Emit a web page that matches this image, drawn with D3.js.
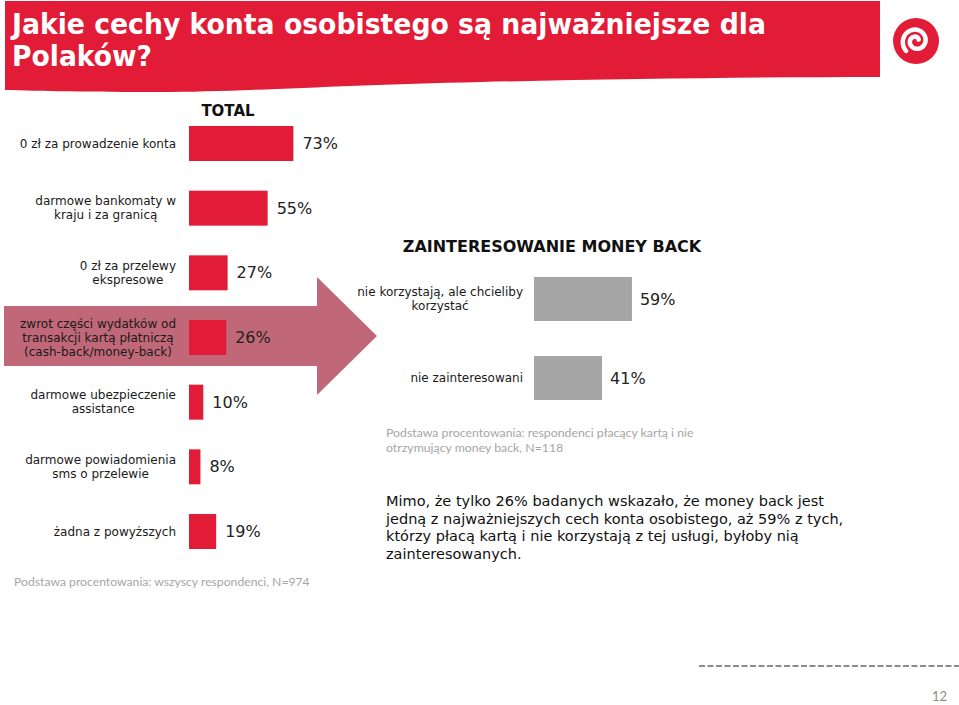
<!DOCTYPE html>
<html>
<head>
<meta charset="utf-8">
<script src="https://cdn.jsdelivr.net/npm/d3@7"></script>
<style>
  html, body { margin: 0; padding: 0; background: #fff; }
  svg { display: block; }
</style>
</head>
<body>
<svg id="chart" width="959" height="705"></svg>
<script>
// ---------- DATA ----------
const titleLines = ["Jakie cechy konta osobistego są najważniejsze dla", "Polaków?"];
const totalTitle = "TOTAL";
const categories = [
  "0 zł za prowadzenie konta",
  "darmowe bankomaty w\nkraju i za granicą",
  "0 zł za przelewy\nekspresowe",
  "zwrot części wydatków od\ntransakcji kartą płatniczą\n(cash-back/money-back)",
  "darmowe ubezpieczenie\nassistance",
  "darmowe powiadomienia\nsms o przelewie",
  "żadna z powyższych"
];
const values = [73, 55, 27, 26, 10, 8, 19];
const footnoteLeft = "Podstawa procentowania: wszyscy respondenci, N=974";

const mbTitle = "ZAINTERESOWANIE MONEY BACK";
const mbCategories = ["nie korzystają, ale chcieliby\nkorzystać", "nie zainteresowani"];
const mbValues = [59, 41];
const footnoteRight = ["Podstawa procentowania: respondenci płacący kartą i nie", "otrzymujący money back, N=118"];

const summaryLines = [
  "Mimo, że tylko 26% badanych wskazało, że money back jest",
  "jedną z najważniejszych cech konta osobistego, aż 59% z tych,",
  "którzy płacą kartą i nie korzystają z tej usługi, byłoby nią",
  "zainteresowanych."
];
const pageNumber = "12";

// ---------- STYLE ----------
const RED = "#e21b36";
const GREY_BAR = "#a6a6a6";
const ARROW = "#c06878";
const FONT = "'DejaVu Sans', Verdana, sans-serif";
const FOOT_FONT = "Lato, 'Open Sans', sans-serif";

const svg = d3.select("#chart");
svg.append("rect").attr("width", 959).attr("height", 705).attr("fill", "#fff");

// ---------- Banner ----------
svg.append("path")
  .attr("d", "M5,1 L880,1 L880,77 C760,77 620,79 480,82 C340,85 240,92 160,92 C90,92 40,91 5,90 Z")
  .attr("fill", RED);
const tt = svg.append("g").attr("fill", "#fff")
  .style("font-family", "'DejaVu Sans Condensed', 'DejaVu Sans', sans-serif")
  .style("font-weight", "bold").style("font-size", "29px");
tt.append("text").attr("x", 12).attr("y", 34).text(titleLines[0])
  .attr("textLength", 754).attr("lengthAdjust", "spacingAndGlyphs");
tt.append("text").attr("x", 12).attr("y", 66).text(titleLines[1])
  .attr("textLength", 140).attr("lengthAdjust", "spacingAndGlyphs");

// logo
const logo = svg.append("g").attr("transform", "translate(916,41)");
logo.append("circle").attr("r", 23).attr("fill", RED);
const spiral = [];
for (let i = 0; i <= 60; i++) {
  const t = i / 60;
  const ang = Math.PI * 0.15 + t * Math.PI * 3.1;
  const r = 3 + t * 11;
  spiral.push([Math.cos(-ang) * r, Math.sin(-ang) * r]);
}
logo.append("path").attr("d", d3.line().curve(d3.curveCatmullRom)(spiral.reverse()))
  .attr("fill", "none").attr("stroke", "#fff").attr("stroke-width", 4.5).attr("stroke-linecap", "round");

// ---------- Arrow ----------
svg.append("path")
  .attr("d", "M4,306 L317,306 L317,277 L377,336 L317,395 L317,366 L4,366 Z")
  .attr("fill", ARROW);

// helper: multi-line labels, block right-aligned at xRight, lines centered
function multiLabel(g, text, xRight, yCenter, lineH) {
  const lines = text.split("\n");
  const t = g.append("text").attr("text-anchor", "middle");
  const n = lines.length;
  const spans = lines.map((ln, i) => t.append("tspan")
    .attr("y", yCenter + (i - (n - 1) / 2) * lineH).attr("dy", "0.35em").text(ln));
  let maxW = 0;
  spans.forEach(s => { maxW = Math.max(maxW, s.node().getComputedTextLength()); });
  spans.forEach(s => s.attr("x", xRight - maxW / 2));
}

// ---------- Left chart ----------
const x = d3.scaleLinear().domain([0, 100]).range([189, 332]);
const y = d3.scaleBand().domain(categories).range([126, 549]).paddingInner(0.459).paddingOuter(0);

svg.append("text").attr("x", 228).attr("y", 111).attr("dy", "0.35em")
  .attr("text-anchor", "middle").style("font-family", FONT).style("font-weight", "bold")
  .style("font-size", "15px").attr("fill", "#111").text(totalTitle);

const left = svg.append("g");
left.selectAll("rect.bar").data(values).join("rect").attr("class", "bar")
  .attr("x", x(0)).attr("y", (d, i) => y(categories[i]))
  .attr("width", d => x(d) - x(0)).attr("height", y.bandwidth()).attr("fill", RED);

left.selectAll("text.val").data(values).join("text").attr("class", "val")
  .attr("x", d => x(d) + 9).attr("y", (d, i) => y(categories[i]) + y.bandwidth() / 2)
  .attr("dy", "0.35em").style("font-family", FONT).style("font-size", "16px")
  .attr("fill", "#222").text(d => d + "%");

const lblG = svg.append("g").style("font-family", FONT).style("font-size", "12px").attr("fill", "#1a1a1a");
categories.forEach(c => multiLabel(lblG, c, 176, y(c) + y.bandwidth() / 2, 14));

svg.append("text").attr("x", 14).attr("y", 582).attr("dy", "0.35em")
  .style("font-family", FOOT_FONT).style("font-size", "12.2px").attr("fill", "#a6a6a6")
  .text(footnoteLeft);

// ---------- Right chart ----------
const x2 = d3.scaleLinear().domain([0, 100]).range([534, 700]);
const y2 = d3.scaleBand().domain(mbCategories).range([277, 400]).paddingInner(0.443).paddingOuter(0);

svg.append("text").attr("x", 552).attr("y", 246).attr("dy", "0.35em")
  .attr("text-anchor", "middle").style("font-family", FONT).style("font-weight", "bold")
  .style("font-size", "16px").attr("fill", "#111").text(mbTitle);

const right = svg.append("g");
right.selectAll("rect.bar").data(mbValues).join("rect").attr("class", "bar")
  .attr("x", x2(0)).attr("y", (d, i) => y2(mbCategories[i]))
  .attr("width", d => x2(d) - x2(0)).attr("height", y2.bandwidth()).attr("fill", GREY_BAR);

right.selectAll("text.val").data(mbValues).join("text").attr("class", "val")
  .attr("x", d => x2(d) + 8).attr("y", (d, i) => y2(mbCategories[i]) + y2.bandwidth() / 2)
  .attr("dy", "0.35em").style("font-family", FONT).style("font-size", "16px")
  .attr("fill", "#222").text(d => d + "%");

const lbl2 = svg.append("g").style("font-family", FONT).style("font-size", "12px").attr("fill", "#1a1a1a");
mbCategories.forEach(c => multiLabel(lbl2, c, 523, y2(c) + y2.bandwidth() / 2, 14));

const fr = svg.append("g").style("font-family", FOOT_FONT).style("font-size", "12.3px").attr("fill", "#a6a6a6");
footnoteRight.forEach((ln, i) => fr.append("text").attr("x", 386).attr("y", 433 + i * 15)
  .attr("dy", "0.35em").text(ln));

// ---------- Summary ----------
const sm = svg.append("g").style("font-family", FONT).style("font-size", "14.5px").attr("fill", "#111");
summaryLines.forEach((ln, i) => sm.append("text").attr("x", 386).attr("y", 501 + i * 17.5)
  .attr("dy", "0.35em").text(ln));

// ---------- Footer ----------
svg.append("line").attr("x1", 699).attr("x2", 959).attr("y1", 666).attr("y2", 666)
  .attr("stroke", "#8c8c8c").attr("stroke-width", 2).attr("stroke-dasharray", "6,2.5");
svg.append("text").attr("x", 947).attr("y", 696).attr("dy", "0.35em").attr("text-anchor", "end")
  .style("font-family", FOOT_FONT).style("font-size", "13px").attr("fill", "#8c8c8c").text(pageNumber);
</script>
</body>
</html>
